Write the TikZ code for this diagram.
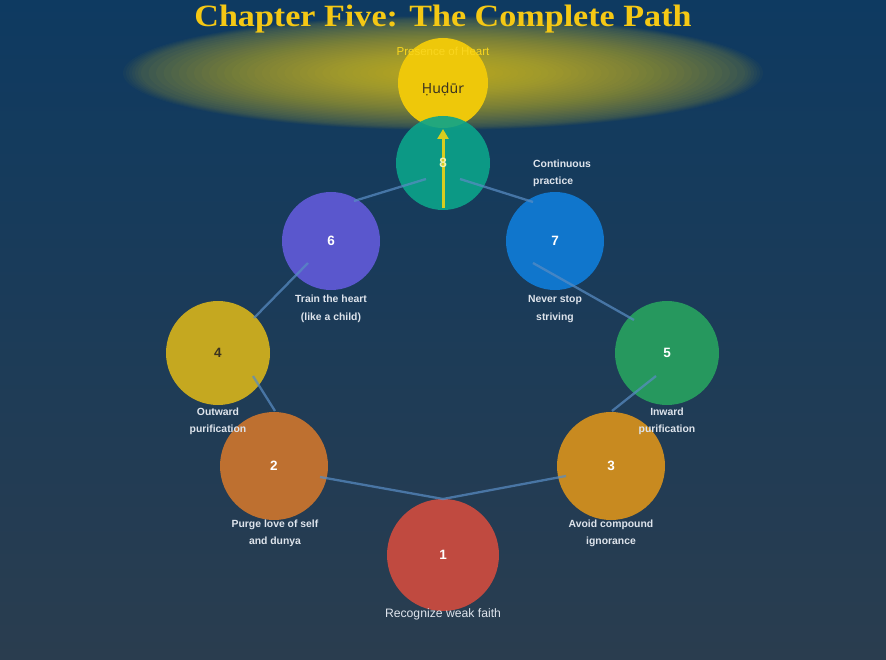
\documentclass[tikz,border=0pt]{standalone}
\usepackage{fontspec}
\setmainfont{Liberation Sans}
\newfontfamily\titlefont{Liberation Serif}
\newfontfamily\notofont{Noto Sans}
\usetikzlibrary{arrows.meta}
\definecolor{bgtop}{RGB}{14,58,97}
\definecolor{bgbot}{RGB}{42,61,79}
\definecolor{glowc}{RGB}{238,208,30}
\definecolor{titlec}{RGB}{245,200,20}
\definecolor{c1}{RGB}{192,74,64}
\definecolor{c2}{RGB}{190,112,48}
\definecolor{c3}{RGB}{200,138,32}
\definecolor{c4}{RGB}{197,168,32}
\definecolor{c5}{RGB}{38,152,94}
\definecolor{c6}{RGB}{90,87,205}
\definecolor{c7}{RGB}{16,118,204}
\definecolor{c8}{RGB}{12,164,138}
\definecolor{chud}{RGB}{238,200,10}
\definecolor{darktext}{RGB}{59,51,32}
\definecolor{labelc}{RGB}{222,228,236}
\definecolor{linkc}{RGB}{88,140,195}
\definecolor{arrowc}{RGB}{215,205,30}
\definecolor{presc}{RGB}{250,214,30}
\tikzset{
  stepc/.style={circle, inner sep=0pt, draw=none, font=\fontsize{13.5}{15}\selectfont\bfseries, text=white},
  lab/.style={anchor=base, inner sep=0pt, text=labelc, font=\fontsize{10.4}{12}\selectfont\bfseries},
  link/.style={draw=linkc, draw opacity=0.72, line width=2.3pt},
  glowlayer/.style={fill=glowc, fill opacity=#1}
}
\begin{document}
\begin{tikzpicture}[x=1pt,y=-1pt]
\useasboundingbox (0,0) rectangle (886,660);
\shade[top color=bgtop, bottom color=bgbot] (0,0) rectangle (886,660);
% glow
\foreach \k in {0,...,5}{
  \fill[glowlayer=0.03] (443,73) ellipse [x radius={320-\k*3}, y radius={57-\k*0.6}];
}
\foreach \k in {0,...,39}{
  \fill[glowlayer=0.035] (443,73) ellipse [x radius={302*(1-\k/40)}, y radius={53*(1-\k/40)}];
}
% title
\node[anchor=base, inner sep=0pt, text=titlec, font=\titlefont\bfseries\fontsize{31}{32}\selectfont] (title) at (443,27) {\scalebox{1.1}[1]{Chapter Five: The Complete Path}};
% Hudur
\node[stepc, fill=chud, minimum size=90pt] (hud) at (443,83) {};
\node[inner sep=0pt, anchor=base, text=darktext, font=\notofont\bfseries\fontsize{14}{16}\selectfont] (hudt) at (443,94) {Ḥuḍūr};
\node[anchor=base, inner sep=0pt, text=presc, font=\fontsize{11.5}{13}\selectfont] (pres) at (443,55.5) {Presence of Heart};
% step circles
\node[stepc, fill=c8, fill opacity=0.9, minimum size=94pt] (n8) at (443,163) {};
\node[stepc, fill=c6, minimum size=98pt] (n6) at (331,241) {6};
\node[stepc, fill=c7, minimum size=98pt] (n7) at (555,241) {7};
\node[stepc, fill=c4, minimum size=104pt, text=darktext] (n4) at (218,353) {4};
\node[stepc, fill=c5, minimum size=104pt] (n5) at (667,353) {5};
\node[stepc, fill=c2, minimum size=108pt] (n2) at (274,466) {2};
\node[stepc, fill=c3, minimum size=108pt] (n3) at (611,466) {3};
\node[stepc, fill=c1, minimum size=112pt] (n1) at (443,555) {1};
% connector end points
\coordinate (p21) at (320,477);
\coordinate (p1t) at (443,499);
\coordinate (p31) at (566,476);
\coordinate (p42) at (253,376);
\coordinate (p24) at (275,411);
\coordinate (p35) at (612,411);
\coordinate (p53) at (656,376);
\coordinate (p46) at (254,318);
\coordinate (p64) at (308,263);
\coordinate (p57) at (634,320);
\coordinate (p75) at (533,263);
\coordinate (p68) at (354,201);
\coordinate (p86) at (426,179);
\coordinate (p87) at (460,179);
\coordinate (p78) at (533,202);
\coordinate (tip) at (443,129);
\draw[link] (p21) -- (p1t);
\draw[link] (p1t) -- (p31);
\draw[link] (p42) -- (p24);
\draw[link] (p35) -- (p53);
\draw[link] (p46) -- (p64);
\draw[link] (p57) -- (p75);
\draw[link] (p68) -- (p86);
\draw[link] (p87) -- (p78);
% arrow to Hudur
\draw[arrowc, line width=3pt, -{Triangle[width=11pt,length=10pt]}] (443,208) -- (tip);
\node[stepc, text={rgb,255:red,245;green,240;blue,176}] (t8) at (n8) {8};
% labels
\node[lab] (l6a) at (331,303) {Train the heart};
\node[lab] (l6b) at (331,320) {(like a child)};
\node[lab] (l7a) at (555,303) {Never stop};
\node[lab] (l7b) at (555,320) {striving};
\node[lab] (l4a) at (218,415) {Outward};
\node[lab] (l4b) at (218,432) {purification};
\node[lab] (l5a) at (667,415) {Inward};
\node[lab] (l5b) at (667,432) {purification};
\node[lab] (l2a) at (275,527) {Purge love of self};
\node[lab] (l2b) at (275,544) {and dunya};
\node[lab] (l3a) at (611,527) {Avoid compound};
\node[lab] (l3b) at (611,544) {ignorance};
\node[lab, anchor=base west] (l8a) at (533,167.7) {Continuous};
\node[lab, anchor=base west] (l8b) at (533,184.7) {practice};
\node[anchor=base, inner sep=0pt, text=labelc, font=\fontsize{12.2}{14}\selectfont] (l1) at (443,617) {Recognize weak faith};
\end{tikzpicture}
\end{document}
